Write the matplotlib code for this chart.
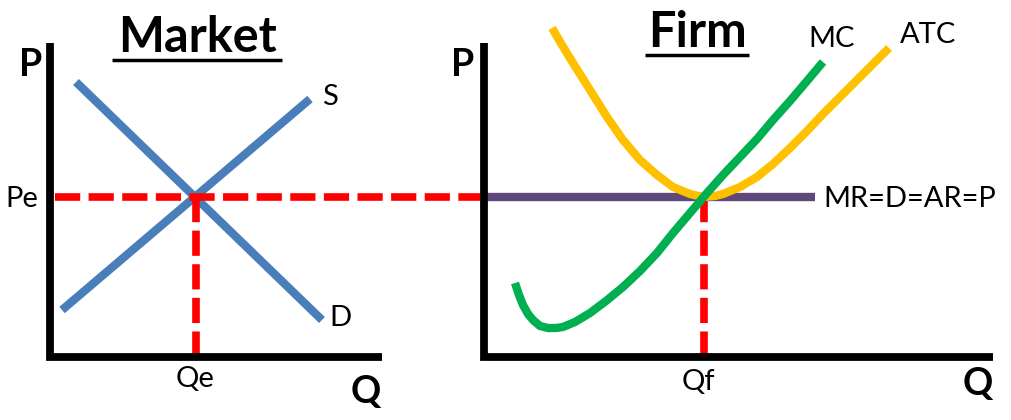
import matplotlib
matplotlib.use("Agg")
import matplotlib.pyplot as plt

plt.rcParams['font.family'] = ['Lato', 'DejaVu Sans']

# market supply / demand (x, y in picture units, y grows downward)
supply_x = [62, 310]
supply_y = [310, 99]
demand_x = [76, 322]
demand_y = [82, 320]

# equilibrium
pe = 197
qe = 196
qf = 704

# firm cost curves
mc_x = [515, 519, 523, 528, 533, 540, 548, 556, 563, 575, 590, 606, 623, 640,
        657, 673, 690, 707, 723, 740, 757, 773, 790, 807, 823]
mc_y = [283, 295, 305, 314, 320, 326, 328, 328, 327, 322, 313, 301, 287, 271,
        253, 233, 213, 193, 175, 157, 139, 120, 101, 81, 62]
atc_x = [552, 562, 573, 590, 607, 623, 640, 657, 673, 690, 703, 715, 723, 740,
         757, 773, 790, 807, 823, 840, 857, 873, 889]
atc_y = [28, 45, 63, 90, 117, 140, 160, 175, 187, 194, 197, 196, 194, 187,
         177, 164, 148, 131, 114, 97, 80, 64, 48]
mr_x = [484, 815]

blue = '#4a7ebb'
red = '#ff0000'
purple = '#5f497a'
green = '#00b050'
yellow = '#ffc000'

fig = plt.figure(figsize=(10.11, 4.2), dpi=100)
ax = fig.add_axes([0, 0, 1, 1])
ax.set_xlim(0, 1011)
ax.set_ylim(420, 0)
ax.axis('off')

# axes of both panels
ax.plot([50, 50, 382], [43, 357, 357], color='black', lw=5.6,
        solid_joinstyle='miter', solid_capstyle='butt', zorder=5)
ax.plot([484, 484, 993], [43, 357, 357], color='black', lw=5.6,
        solid_joinstyle='miter', solid_capstyle='butt', zorder=5)

# market curves
ax.plot(supply_x, supply_y, color=blue, lw=6, solid_capstyle='butt', zorder=2)
ax.plot(demand_x, demand_y, color=blue, lw=6, solid_capstyle='butt', zorder=2)

# price line carried across to the firm
ax.plot([55, 480], [pe, pe], color=red, lw=5.5, dashes=(3.3, 1.1), zorder=3)
ax.plot([qe, qe], [pe, 355], color=red, lw=5.5, dashes=(3.3, 1.1), zorder=3)
ax.plot([qf, qf], [pe, 355], color=red, lw=5.5, dashes=(3.3, 1.1), zorder=1)

# firm curves
ax.plot(mr_x, [pe, pe], color=purple, lw=6, solid_capstyle='butt', zorder=2)
ax.plot(atc_x, atc_y, color=yellow, lw=6, solid_capstyle='butt',
        solid_joinstyle='round', zorder=3)
ax.plot(mc_x, mc_y, color=green, lw=6, solid_capstyle='butt',
        solid_joinstyle='round', zorder=4)

# titles with underline
ax.text(197, 52, 'Market', fontsize=35, fontweight='bold', ha='center', va='baseline')
ax.plot([112, 282], [60, 60], color='black', lw=2.5, solid_capstyle='butt')
ax.text(697, 47, 'Firm', fontsize=35, fontweight='bold', ha='center', va='baseline')
ax.plot([645, 749], [55, 55], color='black', lw=2.5, solid_capstyle='butt')

# axis letters
ax.text(31, 76, 'P', fontsize=27, fontweight='bold', ha='center', va='baseline')
ax.text(463, 76, 'P', fontsize=27, fontweight='bold', ha='center', va='baseline')
ax.text(366, 403, 'Q', fontsize=27, fontweight='bold', ha='center', va='baseline')
ax.text(978, 395, 'Q', fontsize=27, fontweight='bold', ha='center', va='baseline')

# curve labels
lab = dict(fontsize=21, va='baseline')
ax.text(22, 207, 'Pe', ha='center', **lab)
ax.text(330, 105, 'S', ha='center', **lab)
ax.text(340, 326, 'D', ha='center', **lab)
ax.text(195, 387, 'Qe', ha='center', **lab)
ax.text(698, 390, 'Qf', ha='center', **lab)
ax.text(823, 207, 'MR=D=AR=P', ha='left', **lab)
ax.text(832, 47, 'MC', ha='center', **lab)
ax.text(928, 43, 'ATC', ha='center', **lab)

fig.savefig('out.png', dpi=100)
